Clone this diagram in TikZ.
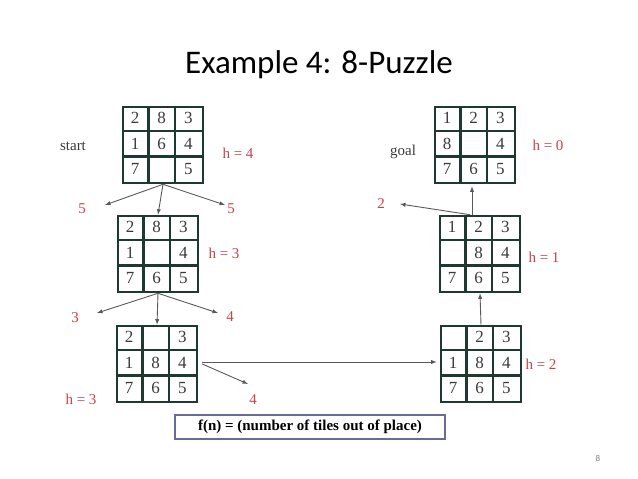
\documentclass[tikz,border=0pt]{standalone}
\usepackage{fontspec}
\usetikzlibrary{calc}
\setmainfont{Liberation Serif}
\newfontfamily\titlefont{Carlito}
\definecolor{gridc}{HTML}{1E3A2E}
\definecolor{redt}{HTML}{C8414A}
\definecolor{txt}{HTML}{3A3A3A}
\definecolor{boxc}{HTML}{6A6A9A}
\begin{document}
\begin{tikzpicture}[x=1pt,y=-1pt,
  grid/.style={draw=gridc,line width=2.6pt,minimum width=80pt,minimum height=76pt,inner sep=0pt},
  lab/.style={text=redt,font=\fontsize{15}{15}\selectfont},
  blk/.style={text=txt,font=\fontsize{15}{15}\selectfont},
  arr/.style={draw=gray!70!black,line width=0.9pt,-latex}]
\useasboundingbox (0,0) rectangle (638,479);
\newcommand\puz[4]{%
  \node[grid] (#1) at (#2,#3) {};
  \draw[gridc,line width=2.6pt] ($(#1.north west)+(80/3,0)$) -- ($(#1.south west)+(80/3,0)$)
    ($(#1.north west)+(160/3,0)$) -- ($(#1.south west)+(160/3,0)$)
    ($(#1.north west)+(0,76/3)$) -- ($(#1.north east)+(0,76/3)$)
    ($(#1.north west)+(0,152/3)$) -- ($(#1.north east)+(0,152/3)$);
  \foreach \v [count=\i from 0] in {#4} {
    \pgfmathsetmacro\cx{mod(\i,3)}\pgfmathsetmacro\cy{int(\i/3)}
    \node[text=txt,font=\fontsize{17}{17}\selectfont] at ($(#1.north west)+({(\cx+0.5)*80/3},{(\cy+0.5)*76/3})$) {\v};}
}
\node[font=\titlefont\fontsize{33}{33}\selectfont,text=black] (title) at (319,65) {Example 4: 8-Puzzle};
\puz{g1}{163}{145}{2,8,3,1,6,4,7,{},5}
\puz{g2}{158}{254}{2,8,3,1,{},4,7,6,5}
\puz{g3}{157}{364}{2,{},3,1,8,4,7,6,5}
\puz{g4}{481}{364}{{},2,3,1,8,4,7,6,5}
\puz{g5}{480}{254}{1,2,3,{},8,4,7,6,5}
\puz{g6}{475}{145}{1,2,3,8,{},4,7,6,5}
\node[blk] (st) at (73,146) {start};
\node[blk] (go) at (403,152) {goal};
\node[lab] (h4) at (238,153) {h = 4};
\node[lab] (a5) at (82,209) {5};
\node[lab] (b5) at (231,209) {5};
\node[lab] (h3a) at (224,253) {h = 3};
\node[lab] (a3) at (75,318) {3};
\node[lab] (a4) at (230,317) {4};
\node[lab] (h3b) at (81,399) {h = 3};
\node[lab] (c4) at (253,400) {4};
\node[lab] (a2) at (381,204) {2};
\node[lab] (h0) at (548,145) {h = 0};
\node[lab] (h1) at (544,257) {h = 1};
\node[lab] (h2) at (541,364) {h = 2};
\node[draw=boxc,line width=1.3pt,fill=white,minimum width=270pt,minimum height=24pt,text=black,font=\fontsize{15}{15}\selectfont\bfseries] (fn) at (310,427) {f(n) = (number of tiles out of place)};
\node[text=gray,font=\titlefont\fontsize{9}{9}\selectfont] (pg) at (598,458) {8};
\coordinate (p1) at (105,205); \coordinate (p2) at (225,205);
\coordinate (q1) at (97,313); \coordinate (q2) at (218,313);
\coordinate (r1) at (248,384); \coordinate (s1) at (400,204);
\draw[arr] (g1.south) -- (p1);
\draw[arr] (g1.south) -- (g2.north);
\draw[arr] (g1.south) -- (p2);
\draw[arr] (g2.south) -- (q1);
\draw[arr] (g2.south) -- (g3.north);
\draw[arr] (g2.south) -- (q2);
\draw[arr] ($(g3.east)+(4,-2)$) -- ($(g4.west)+(-3,-2)$);
\draw[arr] ($(g3.east)+(4,0)$) -- (r1);
\draw[arr] (g4.north) -- (g5.south);
\draw[arr] ($(g5.north)+(-8,0)$) -- ($(g6.south)+(-3,2)$);
\draw[arr] ($(g5.north)+(-10,0)$) -- (s1);
\end{tikzpicture}
\end{document}
